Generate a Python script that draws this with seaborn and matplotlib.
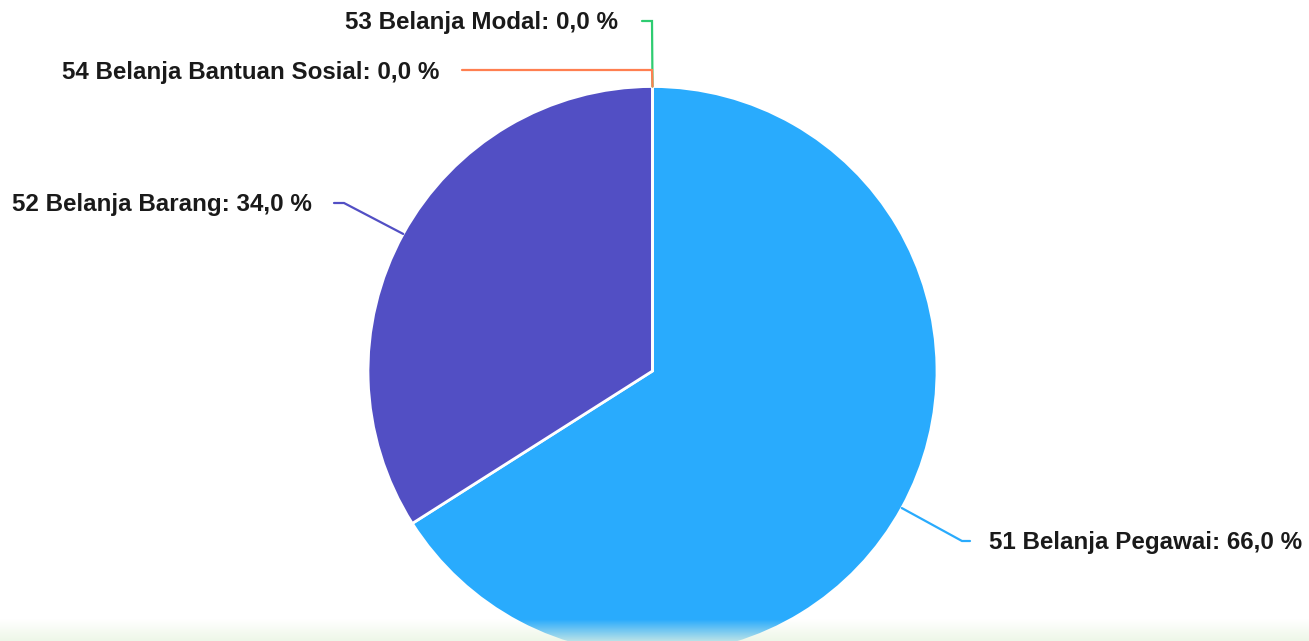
import numpy as np
import matplotlib
matplotlib.use("Agg")
import matplotlib.pyplot as plt
import seaborn as sns

# ---- data ----
categories = ["51 Belanja Pegawai", "52 Belanja Barang", "53 Belanja Modal", "54 Belanja Bantuan Sosial"]
values = [66.0, 34.0, 0.0, 0.0]
colors = ["#29ABFD", "#524FC4", "#2ECC71", "#FF7F50"]

sns.set_theme(style="white")
plt.rcParams['font.family'] = ['Liberation Sans', 'DejaVu Sans']

W, H = 1309, 641
fig = plt.figure(figsize=(W / 100, H / 100), dpi=100)
ax = fig.add_axes([0, 0, 1, 1])

cx, cy, R = 652.5, H - 371, 284.5
wedges, _ = ax.pie(values, colors=colors, startangle=90, counterclock=False,
                   center=(cx, cy), radius=R, frame=True,
                   wedgeprops=dict(edgecolor="white", linewidth=2))

# label layout (image-pixel coords: elbow, line end, text anchor x/y, alignment)
layout = {
    0: dict(elbow=(962, 541), end=(970, 541), text=(989, 543), ha="left"),
    1: dict(elbow=(344, 203), end=(334, 203), text=(312, 204), ha="right"),
    2: dict(elbow=(652, 21), end=(642, 21), text=(618, 22), ha="right"),
    3: dict(elbow=(652, 70), end=(462, 70), text=(439, 72), ha="right"),
}

def fmt(v):
    return f"{v:.1f}".replace(".", ",") + " %"

for i, w in enumerate(wedges):
    ang = np.deg2rad((w.theta1 + w.theta2) / 2)
    ax_, ay_ = cx + R * np.cos(ang), cy + R * np.sin(ang)
    L = layout[i]
    ex, ey = L["elbow"][0], H - L["elbow"][1]
    lx, ly = L["end"][0], H - L["end"][1]
    ax.plot([ax_, ex, lx], [ay_, ey, ly], color=colors[i], lw=1.6,
            solid_joinstyle="miter", zorder=1)
    ax.text(L["text"][0], H - L["text"][1], f"{categories[i]}: {fmt(values[i])}",
            ha=L["ha"], va="center", fontsize=17.4, fontweight="bold",
            color="#1a1a1a", zorder=5)

# faint green band at bottom
n = 40
grad = np.zeros((n, 2, 4))
grad[..., 0] = 0.91
grad[..., 1] = 0.96
grad[..., 2] = 0.88
grad[..., 3] = np.linspace(0.75, 0.0, n)[:, None]
ax.imshow(grad, extent=(0, W, 0, 22), origin="lower", aspect="auto", zorder=4,
          interpolation="bilinear")

ax.set_xlim(0, W)
ax.set_ylim(0, H)
ax.set_aspect("equal")
ax.axis("off")

fig.savefig("out.png", dpi=100, facecolor="white")
